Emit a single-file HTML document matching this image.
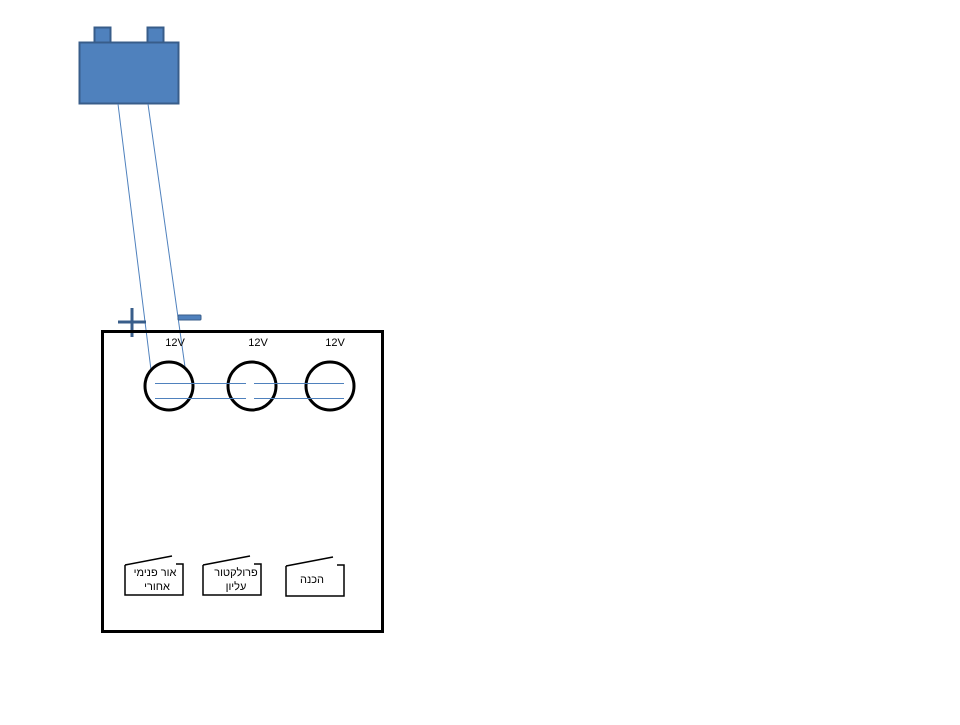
<!DOCTYPE html>
<html><head><meta charset="utf-8"><style>body{margin:0;background:#fff}</style></head><body>
<svg width="960" height="720" xmlns="http://www.w3.org/2000/svg" font-family="Liberation Sans, DejaVu Sans, sans-serif">
<rect x="94.5" y="27.5" width="16" height="15" fill="#4f81bd" stroke="#385d8a" stroke-width="2"/>
<rect x="147.5" y="27.5" width="16" height="15" fill="#4f81bd" stroke="#385d8a" stroke-width="2"/>
<rect x="79.5" y="42.5" width="99" height="61" fill="#4f81bd" stroke="#385d8a" stroke-width="2"/>
<line x1="118" y1="104" x2="151" y2="370" stroke="#4f81bd" stroke-width="1"/>
<line x1="148" y1="104" x2="185" y2="367" stroke="#4f81bd" stroke-width="1"/>
<path d="M118 322H146M132 308V337" stroke="#385d8a" stroke-width="3" fill="none"/>
<rect x="178" y="315" width="23" height="5" rx="1" fill="#4f81bd" stroke="#385d8a" stroke-width="1"/>
<rect x="102.5" y="331.5" width="280" height="300" fill="none" stroke="#000" stroke-width="3"/>
<g font-size="11" fill="#000" text-anchor="middle">
<text x="175" y="346">12V</text><text x="258" y="346">12V</text><text x="335" y="346">12V</text>
</g>
<g fill="none" stroke="#000" stroke-width="3">
<circle cx="169" cy="386" r="24"/><circle cx="252" cy="386" r="24"/><circle cx="330" cy="386" r="24"/>
</g>
<g stroke="#4f81bd" stroke-width="1">
<line x1="155" y1="383.5" x2="246" y2="383.5"/><line x1="254" y1="383.5" x2="344" y2="383.5"/>
<line x1="155" y1="398.5" x2="246" y2="398.5"/><line x1="254" y1="398.5" x2="344" y2="398.5"/>
</g>
<g fill="none" stroke="#000" stroke-width="1.5">
<path d="M125 565V595H183V564H176"/><path d="M125 565L172 556"/>
<path d="M203 565V595H261V564H254"/><path d="M203 565L250 556"/>
<path d="M286 566V596H344V565H337"/><path d="M286 566L333 557"/>
</g>
<g font-size="11" fill="#000" text-anchor="middle" font-family="Liberation Sans, DejaVu Sans, sans-serif">
<text x="155" y="576">אור פנימי</text><text x="157" y="590">אחורי</text>
<text x="236" y="576">פרולקטור</text><text x="236" y="590">עליון</text>
<text x="312" y="583">הכנה</text>
</g>
</svg>
</body></html>
